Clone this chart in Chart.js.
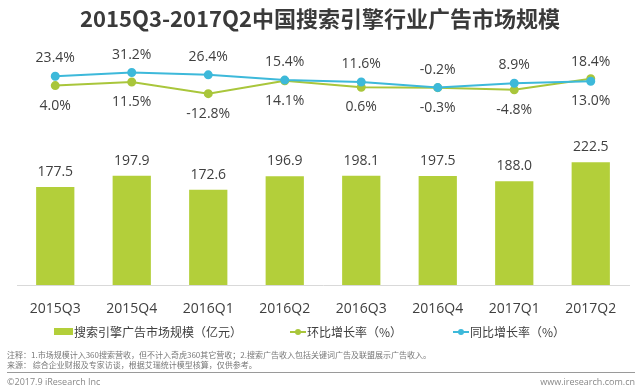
<!DOCTYPE html>
<html>
<head>
<meta charset="utf-8">
<script src="https://cdn.jsdelivr.net/npm/chart.js@4"></script>
<style>
  body { margin: 0; background: #fff; }
  #wrap { position: relative; width: 640px; height: 390px; overflow: hidden; font-family: "Noto Sans CJK SC", sans-serif; color: #404040; }
  #chart { position: absolute; left: 0; top: 0; }
  .ov { position: absolute; white-space: nowrap; }
  #title { left: 0; top: 3px; width: 640px; text-align: center; font-size: 22px; font-weight: bold; line-height: 28px; color: #3a3a3a; }
  .lg { font-size: 12px; line-height: 14px; top: 325px; }
  .box { position: absolute; top: 328px; width: 19px; height: 7px; background: #b3cf3a; }
  .mk { position: absolute; top: 331px; width: 16px; height: 2px; }
  .mk i { position: absolute; left: 5px; top: -2px; width: 6px; height: 6px; border-radius: 50%; }
  .note { left: 7px; font-size: 8px; line-height: 10px; color: #777; }
  #sep { left: 7px; top: 372px; width: 628px; height: 0; border-top: 1px solid #9a9a9a; }
  .foot { top: 376px; font-size: 9px; line-height: 11px; color: #888; font-family: "Open Sans", sans-serif; }
</style>
</head>
<body>
<div id="wrap">
  <canvas id="chart" width="640" height="390"></canvas>
  <div class="ov" id="title">2015Q3-2017Q2中国搜索引擎行业广告市场规模</div>

  <div class="box" style="left:54px"></div>
  <div class="ov lg" style="left:74px">搜索引擎广告市场规模（亿元）</div>
  <div class="mk" style="left:290px;background:#a9c63b"><i style="background:#a9c63b"></i></div>
  <div class="ov lg" style="left:307px">环比增长率（%）</div>
  <div class="mk" style="left:453px;background:#3db9da"><i style="background:#3db9da"></i></div>
  <div class="ov lg" style="left:470px">同比增长率（%）</div>

  <div class="ov note" style="top:350px">注释：1.市场规模计入360搜索营收，但不计入奇虎360其它营收；2.搜索广告收入包括关键词广告及联盟展示广告收入。</div>
  <div class="ov note" style="top:360px">来源：&nbsp;综合企业财报及专家访谈，根据艾瑞统计模型核算，仅供参考。</div>
  <div class="ov" id="sep"></div>
  <div class="ov foot" style="left:7px">©2017.9 iResearch Inc</div>
  <div class="ov foot" style="right:5px">www.iresearch.com.cn</div>
</div>
<script>
var quarters = ["2015Q3", "2015Q4", "2016Q1", "2016Q2", "2016Q3", "2016Q4", "2017Q1", "2017Q2"];
var marketSize = [177.5, 197.9, 172.6, 196.9, 198.1, 197.5, 188.0, 222.5];
var qoqGrowth = [4.0, 11.5, -12.8, 14.1, 0.6, -0.3, -4.8, 18.4];
var yoyGrowth = [23.4, 31.2, 26.4, 15.4, 11.6, -0.2, 8.9, 13.0];

var barColor = "#b3cf3a";
var qoqColor = "#a9c63b";
var yoyColor = "#3db9da";
var numFont = '14px "Open Sans", "Noto Sans CJK SC", sans-serif';

// value labels above bars and above/below the two growth lines
var valueLabels = {
  id: "valueLabels",
  afterDatasetsDraw: function(chart) {
    var ctx = chart.ctx;
    ctx.save();
    ctx.font = numFont;
    ctx.fillStyle = "#404040";
    ctx.textAlign = "center";
    ctx.textBaseline = "middle";
    chart.getDatasetMeta(0).data.forEach(function(bar, i) {
      ctx.fillText(marketSize[i].toFixed(1), bar.x, bar.y - 15);
    });
    chart.getDatasetMeta(1).data.forEach(function(pt, i) {
      var up = qoqGrowth[i] > yoyGrowth[i];
      ctx.fillText(qoqGrowth[i].toFixed(1) + "%", pt.x, pt.y + (up ? -17 : 20));
    });
    chart.getDatasetMeta(2).data.forEach(function(pt, i) {
      var up = yoyGrowth[i] >= qoqGrowth[i];
      ctx.fillText(yoyGrowth[i].toFixed(1) + "%", pt.x, pt.y + (up ? -18 : 20));
    });
    ctx.restore();
  }
};

new Chart("chart", {
  type: "bar",
  data: {
    labels: quarters,
    datasets: [{
      label: "搜索引擎广告市场规模（亿元）",
      data: marketSize,
      backgroundColor: barColor,
      barPercentage: 0.5,
      categoryPercentage: 1,
      yAxisID: "y",
      order: 2
    }, {
      type: "line",
      label: "环比增长率（%）",
      data: qoqGrowth,
      borderColor: qoqColor,
      backgroundColor: qoqColor,
      borderWidth: 2,
      pointRadius: 3.5,
      tension: 0,
      yAxisID: "y1",
      order: 1
    }, {
      type: "line",
      label: "同比增长率（%）",
      data: yoyGrowth,
      borderColor: yoyColor,
      backgroundColor: yoyColor,
      borderWidth: 2,
      pointRadius: 3.5,
      tension: 0,
      yAxisID: "y1",
      order: 0
    }]
  },
  options: {
    responsive: false,
    animation: false,
    devicePixelRatio: 1,
    layout: { padding: { top: 40, left: 17, right: 11, bottom: 0 } },
    plugins: {
      legend: { display: false },
      tooltip: { enabled: false }
    },
    scales: {
      x: {
        grid: { display: false },
        border: { display: true, color: "#d9d9d9", width: 1 },
        ticks: { color: "#404040", font: { family: '"Open Sans", sans-serif', size: 14 }, padding: 8 },
        afterFit: function(scale) { scale.height = 105; }
      },
      y: { display: false, min: 0, max: 444 },
      y1: { display: false, min: -411.5, max: 99 }
    }
  },
  plugins: [valueLabels]
});
</script>
</body>
</html>
